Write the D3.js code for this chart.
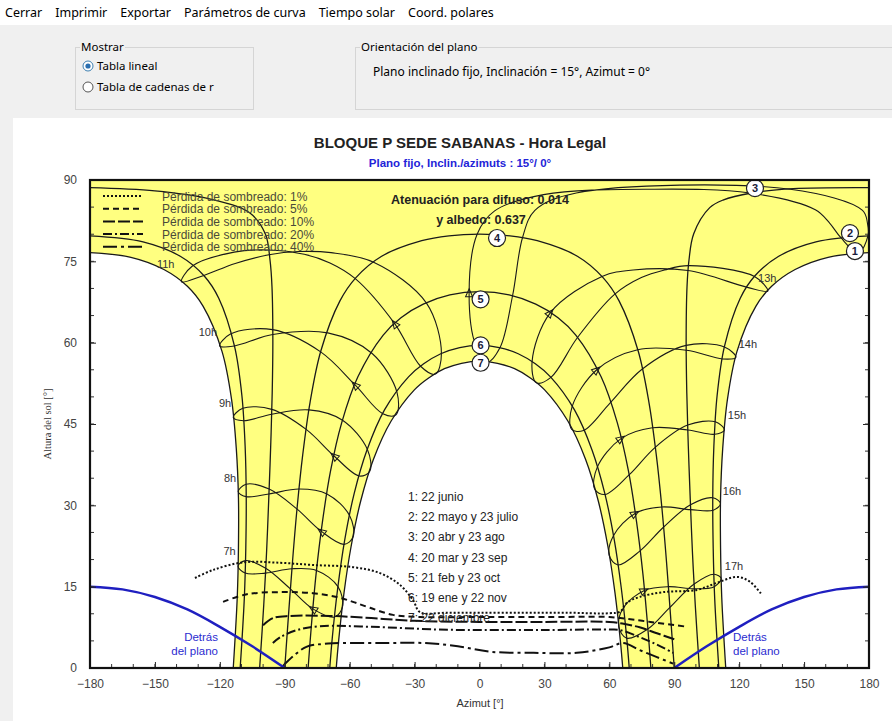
<!DOCTYPE html>
<html><head><meta charset="utf-8">
<script src="https://cdnjs.cloudflare.com/ajax/libs/d3/7.8.5/d3.min.js"></script>
<style>
body{margin:0;background:#fff;}
svg{display:block;}
</style></head>
<body>
<svg id="chart" width="892" height="721"></svg>
<script>
// ---------- DATA ----------
const menuItems = ["Cerrar","Imprimir","Exportar","Parámetros de curva","Tiempo solar","Coord. polares"];
const chartTitle = "BLOQUE P SEDE SABANAS - Hora Legal";
const chartSubtitle = "Plano fijo, Inclin./azimuts : 15°/ 0°";
const diffuseText = ["Atenuación para difuso: 0.014", "y albedo: 0.637"];
const xTicks = [-180,-150,-120,-90,-60,-30,0,30,60,90,120,150,180];
const yTicks = [0,15,30,45,60,75,90];
const dateNames = ["1: 22 junio","2: 22 mayo y 23 julio","3: 20 abr y 23 ago","4: 20 mar y 23 sep","5: 21 feb y 23 oct","6: 19 ene y 22 nov","7: 22 diciembre"];

// date curves [azimut, altura]
const c1Am = [[-113.8,0],[-111.95,13.06],[-111.4,22.2],[-111.4,31.4],[-112.4,40.5],[-114.6,49.6],[-119.0,58.4],[-127.7,66.7],[-135.0,70.4],[-145.85,73.5],[-161.1,75.75],[-180,76.6]];
const c1Pm = [[180,76.6],[161.1,75.75],[145.85,73.5],[135.0,70.4],[127.7,66.7],[119.0,58.4],[114.6,49.6],[112.4,40.5],[111.4,31.4],[111.4,22.2],[111.95,13.06],[113.8,0]];
const c2Am = [[-110.6,0],[-108.7,12.75],[-108.0,22.1],[-107.8,31.5],[-108.3,40.8],[-109.8,50.2],[-113.2,59.3],[-120.5,68.2],[-127.2,72.3],[-138.1,75.9],[-155.5,78.6],[-180,79.7]];
const c2Pm = [[180,79.7],[155.5,78.6],[138.1,75.9],[127.2,72.3],[120.5,68.2],[113.2,59.3],[109.8,50.2],[108.3,40.8],[107.8,31.5],[108.0,22.1],[108.7,12.75],[110.6,0]];
const c3Am = [[-101.6,0],[-99.7,11.65],[-98.4,21.4],[-97.4,31.1],[-96.5,40.9],[-95.8,50.7],[-95.5,60.5],[-95.9,70.3],[-96.8,75.2],[-99.0,80.1],[-106.4,84.0],[-125.7,86.6],[-150,88.0],[-180,88.6]];
const c3Pm = [[180,88.6],[145,88.4],[125.7,87.6],[112.5,86.3],[106.4,84.9],[99.0,80.1],[96.8,75.2],[95.9,70.3],[95.5,60.5],[95.8,50.7],[96.5,40.9],[97.4,31.1],[98.4,21.4],[99.7,11.65],[101.6,0]];
const c4 = [[-90,0],[-88.25,9.85],[-86.4,19.7],[-84.3,29.5],[-81.7,39.3],[-78.3,49.0],[-73.3,58.5],[-64.5,67.7],[-57.1,72.0],[-45.4,75.9],[-26.7,78.8],[-14.1,79.7],[0,80],[14.1,79.7],[26.7,78.8],[45.4,75.9],[57.1,72.0],[64.5,67.7],[73.3,58.5],[78.3,49.0],[81.7,39.3],[84.3,29.5],[86.4,19.7],[88.25,9.85],[90,0]];
const c5 = [[-79.2,0],[-77.7,7.8],[-75.5,17.4],[-72.6,26.9],[-68.9,36.2],[-63.7,45.2],[-56.2,53.7],[-44.5,61.4],[-36.3,64.6],[-26.0,67.1],[-13.7,68.8],[0,69.4],[13.7,68.8],[26.0,67.1],[36.3,64.6],[44.5,61.4],[56.2,53.7],[63.7,45.2],[68.9,36.2],[72.6,26.9],[75.5,17.4],[77.7,7.8],[79.2,0]];
const c6 = [[-69.2,0],[-68.0,5.7],[-65.5,14.8],[-62.3,23.6],[-57.9,32.2],[-52.0,40.2],[-43.9,47.6],[-32.8,53.7],[-25.8,56.1],[-17.9,57.96],[-9.15,59.1],[0,59.5],[9.15,59.1],[17.9,57.96],[25.8,56.1],[32.8,53.7],[43.9,47.6],[52.0,40.2],[57.9,32.2],[62.3,23.6],[65.5,14.8],[68.0,5.7],[69.2,0]];
const c7 = [[-66.2,0],[-65.1,5.0],[-62.6,13.9],[-59.3,22.5],[-54.9,30.8],[-49.0,38.5],[-40.9,45.5],[-30.1,51.3],[-23.5,53.5],[-16.2,55.2],[-8.3,56.2],[0,56.6],[8.3,56.2],[16.2,55.2],[23.5,53.5],[30.1,51.3],[40.9,45.5],[49.0,38.5],[54.9,30.8],[59.3,22.5],[62.6,13.9],[65.1,5.0],[66.2,0]];
// circled date labels
const dateLabelPos = [[173.5,76.9],[171.2,80.2],[127.3,88.5],[8.1,79.3],[0.5,68.0],[0.5,59.5],[0.5,56.3]];

// hour loops (Dec, Jan, Feb, Mar, ..., Nov)
const h7  = [[-63.3,11.3],[-67.0,9.4],[-77.0,10.9],[-87.4,14.6],[-98.8,18.4],[-108.2,19.8],[-111.6,18.8],[-108.3,17.5],[-98.9,17.5],[-86.7,18.3],[-75.3,18.0],[-65.4,15.0]];
const h8  = [[-58.4,24.2],[-62.6,22.8],[-73.1,25.2],[-84.3,29.3],[-97.2,33.0],[-107.9,33.9],[-111.5,32.5],[-107.8,31.6],[-97.3,32.1],[-83.4,33.0],[-70.5,32.1],[-60.0,28.1]];
const h9  = [[-50.7,36.3],[-55.5,35.4],[-67.2,39.1],[-80.1,44.0],[-96.0,47.7],[-109.4,47.9],[-113.8,46.2],[-109.1,45.6],[-96.1,46.8],[-78.8,47.6],[-63.3,45.7],[-51.8,40.3]];
const h10 = [[-38.6,46.7],[-44.7,46.9],[-57.5,52.2],[-73.4,58.3],[-95.6,62.4],[-115.1,61.6],[-120.1,59.4],[-113.3,59.4],[-95.5,61.5],[-70.1,61.8],[-49.6,58.0],[-38.1,50.8]];
const h11 = [[-20.4,54.2],[-27.1,55.6],[-39.2,63.5],[-57.4,71.8],[-69.1,74.7],[-81.0,76.3],[-97.7,77.1],[-113.4,76.7],[-132.8,74.1],[-137.7,71.2],[-127.4,72.4],[-112.9,74.6],[-97.3,76.2],[-83.7,76.8],[-68.6,76.6],[-48.7,74.8],[-24.5,67.3],[-17.6,58.0]];
const h12 = [[3.5,56.4],[-1.7,59.4],[-4.8,69.2],[-1.1,80.0],[7,84.3],[29.6,87.3],[80,88.3],[125,87.6],[155.2,84.5],[161.9,82.0],[166.9,79.4],[175.1,76.5],[179.5,79.7],[179.3,82],[177,84.4],[143.6,88.3],[44.7,87.6],[25.6,84.4],[19.9,79.4],[15.3,68.7],[9.5,59.1]];
const h13 = [[26.3,52.6],[24.3,56.5],[32.7,65.5],[56.6,72.2],[71.0,73.4],[96.4,73.3],[123.8,70.2],[133.2,69.5],[127.1,72.2],[96.6,74.2],[85.5,73.4],[74.8,72.0],[62.4,68.9],[45.2,60.9],[33.0,53.6]];
const h14 = [[42.6,44.0],[42.8,48.2],[54.2,55.0],[73.1,58.7],[95.6,58.6],[112.3,57.0],[118.5,57.3],[113.2,59.2],[95.5,59.5],[75.1,55.1],[60.4,48.9],[48.1,43.8]];
const h15 = [[53.2,33.0],[54.4,37.0],[65.4,42.3],[79.9,44.3],[96.3,43.9],[108.7,43.1],[113.2,43.9],[109.0,45.4],[96.2,44.8],[81.2,40.7],[69.1,35.6],[58.0,32.0]];
const h16 = [[60.0,20.7],[61.9,24.4],[71.9,28.5],[84.2,29.7],[97.6,29.2],[108.0,29.1],[111.4,30.3],[107.8,31.4],[97.5,30.1],[85.1,26.0],[74.2,21.6],[64.0,19.0]];
const h17 = [[64.4,7.6],[66.5,11.1],[76.2,14.3],[87.3,15.0],[99.3,14.6],[108.5,15.0],[111.7,16.5],[108.4,17.3],[99.2,15.5],[88.0,11.2],[77.8,7.2],[68.0,5.5]];
const hourNames = ["7h","8h","9h","10h","11h","13h","14h","15h","16h","17h"];
const hourLabelPos = [[-115.5,21.5],[-115.3,35.0],[-117.6,48.8],[-125.5,62.0],[-145,74.6],[133,72.0],[124,59.8],[119,46.6],[116.7,32.6],[117.6,18.8]];

// shading iso-loss lines
const loss1  = [[-131.5,16.6],[-123,18.1],[-109,19.5],[-92,19.4],[-77,19.0],[-58.5,18.6],[-46,17.5],[-36.7,15.3],[-30.7,12.5],[-27.5,10.3],[-15,10.2],[0,10.2],[20,10.2],[40,10.2],[60,10.1],[65,10.4],[68,12],[74,13.1],[85,14],[100.5,14.4],[109.7,15.7],[119,16.8],[125,15.9],[130.5,13.5]];
const loss5  = [[-118.5,12.2],[-107.5,13.6],[-92,14.0],[-77,13.8],[-66,13.1],[-58.5,12.2],[-50.6,11.1],[-40,9.8],[-27.5,9.4],[0,9.4],[30,9.4],[60,9.4],[65,9.2],[79,8.5],[96,7.6]];
const loss10 = [[-100,7.9],[-95.4,9.2],[-87.6,9.6],[-69,9.6],[-50,9.2],[-30,8.7],[0,8.5],[30,8.5],[60,8.5],[66,8.2],[74,7.5],[82,6.4],[90,5.3]];
const loss20 = [[-95.5,4.6],[-92,5.7],[-84.3,7.0],[-73.7,7.7],[-50,7.6],[-20,7.1],[0,7.0],[30,7.0],[60,7.1],[65,7.0],[74,5.7],[82,4.3],[89.5,2.8]];
const loss40 = [[-91,0.3],[-86,2.2],[-80,3.9],[-70,4.5],[-45,4.6],[-25,4.6],[-10,4.0],[5,3.0],[25,2.8],[45,2.8],[60,3.8],[66.4,4.6],[74,3.3],[82,2.0],[89.5,0.8]];
const lossNames = ["Pérdida de sombreado: 1%","Pérdida de sombreado: 5%","Pérdida de sombreado: 10%","Pérdida de sombreado: 20%","Pérdida de sombreado: 40%"];
const lossDash = ["2,2","6,4","12,3","9,3,2,3","14,4,3,4"];

// behind the plane
const behindLeft  = [[-180,15],[-165,14.5],[-150,13.1],[-135,10.8],[-120,7.6],[-105,4.0],[-90,0]];
const behindRight = [[90,0],[105,4.0],[120,7.6],[135,10.8],[150,13.1],[165,14.5],[180,15]];

// ---------- DRAW ----------
const svg = d3.select("#chart");
const W = 892, H = 721;
const M = {l:90, r:869, t:180, b:668};
const x = d3.scaleLinear().domain([-180,180]).range([M.l, M.r]);
const y = d3.scaleLinear().domain([0,90]).range([M.b, M.t]);
const SANS = "'Liberation Sans', Arial, sans-serif";
const UI = "'Noto Sans', 'Open Sans', sans-serif";

// window background
svg.append("rect").attr("width",W).attr("height",H).attr("fill","#ffffff");
svg.append("rect").attr("x",0).attr("y",25).attr("width",W).attr("height",93).attr("fill","#f0f0f0");
svg.append("rect").attr("x",0).attr("y",118).attr("width",13).attr("height",H-118).attr("fill","#f0f0f0");

// menu
let mx = 5;
const menuG = svg.append("g").attr("font-family",UI).attr("font-size",12.5).attr("fill","#000");
menuItems.forEach(t=>{
  const tx = menuG.append("text").attr("x",mx).attr("y",17).text(t);
  mx += tx.node().getComputedTextLength() + 13;
});

// group boxes
function groupBox(x0,y0,w,h,label){
  const g = svg.append("g");
  g.append("rect").attr("x",x0+0.5).attr("y",y0+0.5).attr("width",w).attr("height",h)
    .attr("fill","none").attr("stroke","#d5d5d5");
  const bg = g.append("rect").attr("fill","#f0f0f0");
  const t = g.append("text").attr("x",x0+6).attr("y",y0+4).attr("font-family",UI).attr("font-size",11.5).attr("fill","#000").text(label);
  const bb = t.node().getBBox();
  bg.attr("x",bb.x-1).attr("y",bb.y).attr("width",bb.width+2).attr("height",bb.height);
}
groupBox(75,47,178,62,"Mostrar");
groupBox(355,47,545,62,"Orientación del plano");
svg.append("text").attr("x",97).attr("y",70).attr("font-family",UI).attr("font-size",11.5).text("Tabla lineal");
svg.append("text").attr("x",97).attr("y",91).attr("font-family",UI).attr("font-size",11.5).text("Tabla de cadenas de r");
svg.append("circle").attr("cx",88).attr("cy",66).attr("r",5).attr("fill","#fff").attr("stroke","#3c7fb1");
svg.append("circle").attr("cx",88).attr("cy",66).attr("r",2.6).attr("fill","#2a6fb0");
svg.append("circle").attr("cx",88).attr("cy",87).attr("r",5).attr("fill","#fff").attr("stroke","#555");
svg.append("text").attr("x",373).attr("y",76).attr("font-family",UI).attr("font-size",12).text("Plano inclinado fijo, Inclinación = 15°, Azimut = 0°");

// titles
svg.append("text").attr("x",460).attr("y",148).attr("text-anchor","middle").attr("font-family",SANS)
  .attr("font-weight","bold").attr("font-size",15).attr("fill","#222").text(chartTitle);
svg.append("text").attr("x",460).attr("y",167).attr("text-anchor","middle").attr("font-family",SANS)
  .attr("font-weight","bold").attr("font-size",11.5).attr("fill","#2323d8").text(chartSubtitle);

// clip
svg.append("clipPath").attr("id","plotclip").append("rect")
  .attr("x",M.l).attr("y",M.t).attr("width",M.r-M.l).attr("height",M.b-M.t);
const plot = svg.append("g").attr("clip-path","url(#plotclip)");

const lineGen = d3.line().x(d=>x(d[0])).y(d=>y(d[1])).curve(d3.curveCatmullRom.alpha(0.5));
const loopGen = d3.line().x(d=>x(d[0])).y(d=>y(d[1])).curve(d3.curveCatmullRomClosed.alpha(0.5));
const linGen  = d3.line().x(d=>x(d[0])).y(d=>y(d[1]));

// yellow region (between June and December curves)
const seg = (pts)=> lineGen(pts).replace(/^M/,"L");
const yellowPath = linGen([[-180,90],[180,90]]) + seg(c1Pm) + seg(c7.slice().reverse()) + seg(c1Am) + "Z";
plot.append("path").attr("d",yellowPath).attr("fill","#ffff80").attr("stroke","none");

// date curves
const dateCurves = [c1Am,c1Pm,c2Am,c2Pm,c3Am,c3Pm,c4,c5,c6,c7];
plot.selectAll("path.date").data(dateCurves).join("path").attr("class","date")
  .attr("d",lineGen).attr("fill","none").attr("stroke","#1a1a1a").attr("stroke-width",1.3);

// hour loops
const hourLoops = [h7,h8,h9,h10,h11,h12,h13,h14,h15,h16,h17];
plot.selectAll("path.hour").data(hourLoops).join("path").attr("class","hour")
  .attr("d",loopGen).attr("fill","none").attr("stroke","#1a1a1a").attr("stroke-width",1.1);
// small arrows at the February points
hourLoops.forEach(L=>{
  const p0=[x(L[1][0]),y(L[1][1])], p1=[x(L[2][0]),y(L[2][1])], p2=[x(L[3][0]),y(L[3][1])];
  const ang = Math.atan2(p2[1]-p0[1], p2[0]-p0[0])*180/Math.PI;
  plot.append("path").attr("d","M-4,-3.5L4,0L-4,3.5Z")
    .attr("transform",`translate(${p1[0]},${p1[1]}) rotate(${ang})`)
    .attr("fill","none").attr("stroke","#1a1a1a").attr("stroke-width",1);
});

// shading loss lines
const lossLines = [loss1,loss5,loss10,loss20,loss40];
plot.selectAll("path.loss").data(lossLines).join("path").attr("class","loss")
  .attr("d",lineGen).attr("fill","none").attr("stroke","#111").attr("stroke-width",2)
  .attr("stroke-dasharray",(d,i)=>lossDash[i]);

// behind the plane
[behindLeft,behindRight].forEach(b=>{
  plot.append("path").attr("d",lineGen(b)).attr("fill","none").attr("stroke","#1f1fc0").attr("stroke-width",2.5);
});
const blueG = svg.append("g").attr("font-family",SANS).attr("font-size",11.5).attr("fill","#2b2bd0");
blueG.append("text").attr("x",218).attr("y",641).attr("text-anchor","end").text("Detrás");
blueG.append("text").attr("x",218).attr("y",655).attr("text-anchor","end").text("del plano");
blueG.append("text").attr("x",733).attr("y",641).text("Detrás");
blueG.append("text").attr("x",733).attr("y",655).text("del plano");

// hour labels
svg.selectAll("text.hl").data(hourNames).join("text").attr("class","hl")
  .attr("x",(d,i)=>x(hourLabelPos[i][0])).attr("y",(d,i)=>y(hourLabelPos[i][1])+4)
  .attr("text-anchor","middle").attr("font-family",SANS).attr("font-size",11).attr("fill","#333").text(d=>d);

// circled date labels
const cl = svg.selectAll("g.cl").data(dateLabelPos).join("g").attr("class","cl")
  .attr("transform",d=>`translate(${x(d[0])},${y(d[1])})`);
cl.append("circle").attr("r",8.5).attr("fill","#fff").attr("stroke","#222").attr("stroke-width",1.2);
cl.append("text").attr("y",4).attr("text-anchor","middle").attr("font-family",SANS).attr("font-weight","bold")
  .attr("font-size",11).attr("fill","#1b1b3a").text((d,i)=>i+1);

// date legend
svg.selectAll("text.dl").data(dateNames).join("text").attr("class","dl")
  .attr("x",408).attr("y",(d,i)=>501+i*20.2).attr("font-family",SANS).attr("font-size",12).attr("fill","#222").text(d=>d);

// loss legend
const lg = svg.append("g");
lossNames.forEach((t,i)=>{
  const yy = 196 + i*12.7;
  lg.append("line").attr("x1",103).attr("x2",143).attr("y1",yy).attr("y2",yy)
    .attr("stroke","#111").attr("stroke-width",2).attr("stroke-dasharray",lossDash[i]);
  lg.append("text").attr("x",162).attr("y",yy+4.5).attr("font-family",SANS).attr("font-size",12).attr("fill","#4a4a3a").text(t);
});

// diffuse text
svg.selectAll("text.df").data(diffuseText).join("text").attr("class","df")
  .attr("x",(d,i)=> i===0 ? 480 : 481).attr("y",(d,i)=>204+i*20).attr("text-anchor","middle")
  .attr("font-family",SANS).attr("font-weight","bold").attr("font-size",12.5).attr("fill","#222").text(d=>d);

// axes
const axG = svg.append("g").attr("font-family",SANS);
const xMinor = d3.range(-180,181,10), yMinor = d3.range(0,91,5);
const xAxis = d3.axisBottom(x).tickValues(xTicks).tickSize(-6).tickPadding(11).tickFormat(d3.format("d"));
const gx = axG.append("g").attr("transform",`translate(0,${M.b})`).call(xAxis);
gx.selectAll("text").attr("font-size",12).attr("fill","#444");
const yAxis = d3.axisLeft(y).tickValues(yTicks).tickSize(-6).tickPadding(13);
const gy = axG.append("g").attr("transform",`translate(${M.l},0)`).call(yAxis);
gy.selectAll("text").attr("font-size",12).attr("fill","#444");
const gyr = axG.append("g").attr("transform",`translate(${M.r},0)`).call(d3.axisRight(y).tickValues(yTicks).tickSize(-6).tickFormat(""));
[gx,gy,gyr].forEach(g=>{ g.select(".domain").remove(); g.selectAll("line").attr("stroke","#222"); });
// minor ticks
axG.selectAll("line.xm").data(xMinor).join("line").attr("x1",d=>x(d)).attr("x2",d=>x(d)).attr("y1",M.b).attr("y2",M.b-4).attr("stroke","#333");
axG.selectAll("line.ym").data(yMinor).join("line").attr("x1",M.l).attr("x2",M.l+4).attr("y1",d=>y(d)).attr("y2",d=>y(d)).attr("stroke","#333");
axG.selectAll("line.ymr").data(yMinor).join("line").attr("x1",M.r).attr("x2",M.r-4).attr("y1",d=>y(d)).attr("y2",d=>y(d)).attr("stroke","#333");
// frame
svg.append("rect").attr("x",M.l).attr("y",M.t).attr("width",M.r-M.l).attr("height",M.b-M.t)
  .attr("fill","none").attr("stroke","#111").attr("stroke-width",2.2);

svg.append("text").attr("x",480).attr("y",707).attr("text-anchor","middle").attr("font-family",SANS).attr("font-size",11).attr("fill","#333").text("Azimut [°]");
svg.append("text").attr("transform",`translate(51,${(M.t+M.b)/2+0}) rotate(-90)`).attr("text-anchor","middle")
  .attr("font-family","'Liberation Serif', serif").attr("font-size",10.5).attr("fill","#333").text("Altura del sol [°]");
</script>
</body></html>
